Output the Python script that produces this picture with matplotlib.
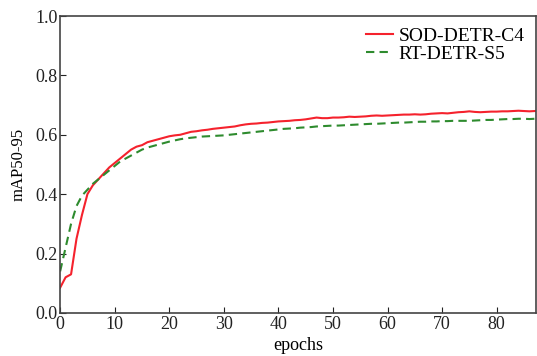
import matplotlib
matplotlib.use("Agg")
import matplotlib.pyplot as plt
import numpy as np

plt.rcParams['font.family'] = ['Liberation Serif', 'DejaVu Serif']

# mAP50-95 per epoch
epochs = np.arange(0, 88)
sod_detr_c4 = [
    0.085, 0.12, 0.13, 0.25, 0.33, 0.40, 0.43, 0.45, 0.47, 0.49,
    0.505, 0.52, 0.535, 0.55, 0.56, 0.565, 0.575, 0.58, 0.585, 0.59,
    0.595, 0.598, 0.60, 0.605, 0.61, 0.612, 0.615, 0.617, 0.62, 0.622,
    0.624, 0.626, 0.628, 0.632, 0.635, 0.637, 0.638, 0.64, 0.641, 0.643,
    0.645, 0.646, 0.647, 0.649, 0.65, 0.652, 0.655, 0.658, 0.656, 0.656,
    0.658, 0.658, 0.659, 0.661, 0.66, 0.661, 0.662, 0.664, 0.665, 0.664,
    0.665, 0.666, 0.667, 0.668, 0.668, 0.669, 0.668, 0.669, 0.671, 0.672,
    0.673, 0.672, 0.674, 0.676, 0.677, 0.679, 0.677, 0.676, 0.677, 0.678,
    0.678, 0.679, 0.679, 0.68, 0.681, 0.68, 0.679, 0.68,
]
rt_detr_s5 = [
    0.14, 0.22, 0.30, 0.36, 0.395, 0.415, 0.435, 0.45, 0.465, 0.48,
    0.495, 0.51, 0.52, 0.53, 0.54, 0.55, 0.557, 0.562, 0.567, 0.572,
    0.577, 0.581, 0.585, 0.588, 0.59, 0.592, 0.594, 0.595, 0.596, 0.597,
    0.598, 0.60, 0.602, 0.604, 0.606, 0.608, 0.61, 0.612, 0.614, 0.616,
    0.618, 0.62, 0.621, 0.622, 0.624, 0.625, 0.626, 0.628, 0.629, 0.63,
    0.631, 0.631, 0.632, 0.633, 0.634, 0.635, 0.636, 0.637, 0.637, 0.638,
    0.639, 0.64, 0.641, 0.641, 0.642, 0.643, 0.644, 0.644, 0.645, 0.645,
    0.646, 0.646, 0.647, 0.647, 0.647, 0.647, 0.648, 0.649, 0.65, 0.65,
    0.651, 0.652, 0.653, 0.653, 0.654, 0.654, 0.653, 0.654,
]

fig = plt.figure(figsize=(5.37, 3.56), dpi=100)
ax = fig.add_axes([0.112, 0.121, 0.886, 0.834])

ax.plot(epochs, sod_detr_c4, color='#f5222d', linewidth=1.5, label='SOD-DETR-C4')
ax.plot(epochs, rt_detr_s5, color='#2e8b2e', linewidth=1.5, linestyle=(0, (4, 2.5)),
        label='RT-DETR-S5')

ax.set_xlim(0, 87.2)
ax.set_ylim(0, 1.0)
ax.set_xticks(range(0, 81, 10))
ax.set_yticks(np.arange(0, 1.01, 0.2))
ax.set_yticklabels([f"{v:.1f}" for v in np.arange(0, 1.01, 0.2)])
ax.tick_params(direction='in', length=4, labelsize=13, colors='#222222', pad=2)
for s in ax.spines.values():
    s.set_color('#444444')
    s.set_linewidth(1.2)

ax.set_xlabel('epochs', fontsize=13, labelpad=3)
ax.set_ylabel('mAP50-95', fontsize=12, labelpad=6)

leg = ax.legend(loc='upper right', frameon=False, fontsize=14,
                handlelength=1.4, handletextpad=0.25, labelspacing=0.0,
                borderaxespad=0.2)

fig.savefig('out.png', dpi=100)
